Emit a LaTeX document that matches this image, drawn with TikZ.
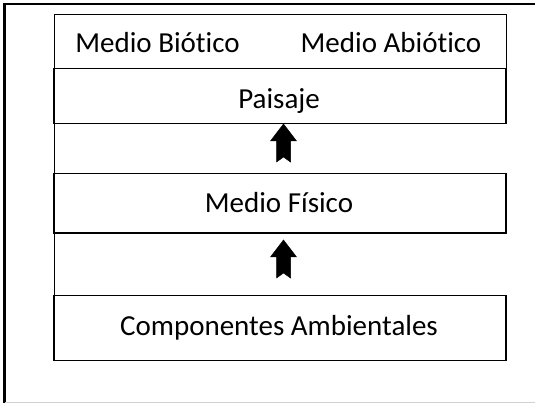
\documentclass[tikz,border=0pt]{standalone}
\usepackage{fontspec}
\setmainfont{Carlito}[Ligatures={NoCommon,NoRare,NoDiscretionary,NoContextual}]
\newcommand\nolig{\kern0pt\relax}
\begin{document}
\begin{tikzpicture}[x=1pt,y=-1pt,
  box/.style={draw=black, line width=1.2pt, rectangle, inner sep=0pt,
    minimum width=452pt, anchor=north west},
  lbl/.style={anchor=base, inner sep=0pt, font=\fontsize{29}{34}\selectfont},
  blockarrow/.style={fill=black, draw=black, line width=0.5pt, line join=miter}]
\useasboundingbox (0,0) rectangle (535,403);
% outer frame (right side cut off)
\draw[line width=2.2pt] (4.5,403) -- (4.5,3.8) -- (535,3.8);
\draw[line width=1pt, draw=black!18] (4.5,402) -- (535,402);
% boxes
\node[box, minimum height=53.3pt] (top) at (53.8,14.3) {};
\node[box, minimum height=55.3pt] (pai) at (53.3,67.6) {};
\node[box, minimum height=59.1pt] (fis) at (53.3,173.3) {};
\node[box, minimum height=64.7pt] (com) at (53.3,295) {};
% thin left line
\coordinate (tl1) at (54.8,122.9);
\coordinate (tl2) at (54.8,338.5);
\draw[line width=0.7pt] (tl1) -- (tl2);
% labels
\node[lbl] (bio) at (157.5,53) {Medio Biót\nolig ico};
\node[lbl] (abio) at (391,53) {Medio Abiót\nolig ico};
\node[lbl] (paisaje) at (279,108.5) {Paisaje};
\node[lbl] (fisico) at (279,213) {Medio Físico};
\node[lbl] (compo) at (279,335.8) {Componentes Ambientales};
% block arrows
\coordinate (a1) at (283.5,124);
\coordinate (a2) at (283.5,240);
\foreach \c in {a1,a2}{
  \fill[blockarrow] (\c) -- ++(13,17) -- ++(-6,0) -- ++(0,21) -- ++(-7,-5) -- ++(-7,5) -- ++(0,-21) -- ++(-6,0) -- cycle;
}
\end{tikzpicture}
\end{document}
